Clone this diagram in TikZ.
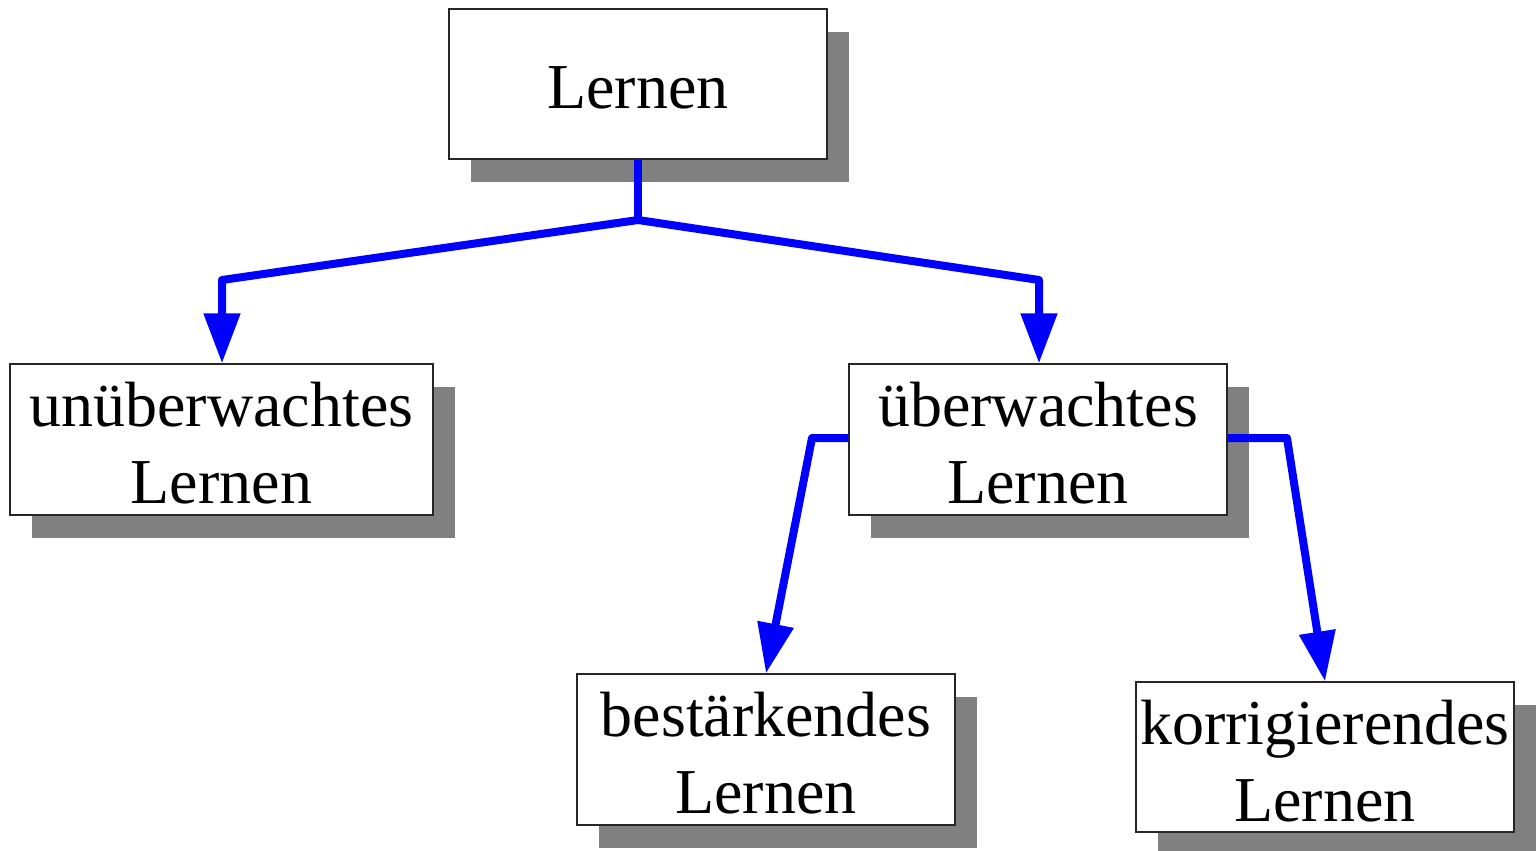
\documentclass[tikz,border=0pt]{standalone}
\usepackage{fontspec}
\setmainfont{Liberation Serif}
\usetikzlibrary{arrows.meta,shadows}
\definecolor{linkblue}{RGB}{0,0,255}
\definecolor{shadowgray}{RGB}{128,128,128}
\tikzset{
  box/.style={draw=black!85, line width=1.2pt, fill=white,
    inner sep=0pt, minimum width=378pt, minimum height=151pt,
    drop shadow={shadow xshift=22pt, shadow yshift=-23pt, fill=shadowgray, opacity=1}},
  boxtext/.style={align=center, inner sep=0pt, font=\fontsize{64}{77}\selectfont},
  link/.style={draw=linkblue, line width=8pt, line join=round},
  tip/.style={-{Triangle[width=35pt,length=50pt]}}
}
\begin{document}
\begin{tikzpicture}[x=1pt,y=-1pt]
\useasboundingbox (0,0) rectangle (1537,851);
% boxes
\node[box, minimum height=150pt] (root) at (638,84) {};
\node[box, minimum width=423pt] (unsup) at (221.5,439.5) {};
\node[box] (sup) at (1038,439.5) {};
\node[box] (reinf) at (766,749.5) {};
\node[box, minimum height=150pt] (corr) at (1325,757) {};
% labels, set slightly below the box centres
\node[boxtext] (root-t) at ([yshift=-4pt]root.center) {Lernen};
\node[boxtext] (unsup-t) at ([yshift=-4pt]unsup.center) {unüberwachtes\\Lernen};
\node[boxtext] (sup-t) at ([yshift=-4pt]sup.center) {überwachtes\\Lernen};
\node[boxtext] (reinf-t) at ([yshift=-4pt]reinf.center) {bestärkendes\\Lernen};
\node[boxtext] (corr-t) at ([yshift=-4pt]corr.center) {korrigierendes\\Lernen};
% bend points of the connectors
\coordinate (split) at (638,220);
\coordinate (lbend) at (222,280);
\coordinate (rbend) at (1039,280);
\coordinate (sl) at (812,438);
\coordinate (sr) at (1287,438);
% connectors
\draw[link] (root.south) -- (split);
\draw[link, tip] (split) -- (lbend) -- (lbend |- unsup.north);
\draw[link, tip] (split) -- (rbend) -- (rbend |- sup.north);
\draw[link, tip] (sup.west |- sl) -- (sl) -- (reinf.north);
\draw[link, tip] (sup.east |- sr) -- (sr) -- (corr.north);
\end{tikzpicture}
\end{document}
